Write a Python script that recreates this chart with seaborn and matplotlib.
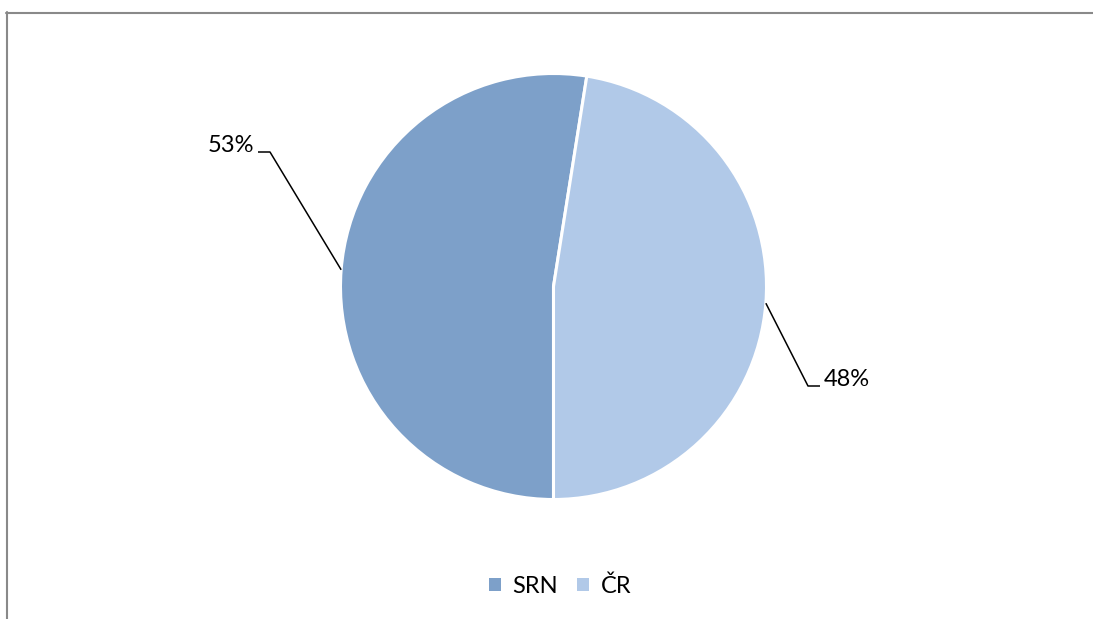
import math

import matplotlib
matplotlib.use("Agg")
import matplotlib.pyplot as plt
from matplotlib.lines import Line2D
from matplotlib.patches import Patch
import seaborn as sns

# Share of each country
categories = ["SRN", "ČR"]
values = [52.5, 47.5]
colors = ["#7DA0C9", "#B1C9E8"]

W, H = 1093, 619
sns.set_theme(style="white")
plt.rcParams["font.family"] = ["Lato", "DejaVu Sans"]
plt.rcParams["text.color"] = "black"

fig = plt.figure(figsize=(W / 100, H / 100), dpi=100)
fig.patch.set_facecolor("white")
ax = fig.add_axes([0, 0, 1, 1])

# pie geometry in pixel units (y measured upward)
cx, cy, r = 553.5, H - 286.5, 213
wedges, _ = ax.pie(
    values, colors=colors, startangle=-90, counterclock=False,
    center=(cx, cy), radius=r,
    wedgeprops=dict(edgecolor="white", linewidth=2.2),
)
ax.set_xlim(0, W)
ax.set_ylim(0, H)
ax.set_aspect("equal")
ax.axis("off")

# leader lines: arc midpoint -> elbow -> short horizontal stub -> label
total = sum(values)
elbows = [(270, 152), (808, 386)]  # pixel positions (y downward)
stub = [-12, 12]
for w, v, (ex, ey), s in zip(wedges, values, elbows, stub):
    mid = math.radians((w.theta1 + w.theta2) / 2)
    ax_pt = (cx + r * math.cos(mid), cy + r * math.sin(mid))
    ey_d = H - ey
    ax.plot([ax_pt[0], ex, ex + s], [ax_pt[1], ey_d, ey_d],
            color="black", lw=1.1, solid_capstyle="butt")
    pct = math.floor(v / total * 100 + 0.5)
    if s < 0:
        ax.text(ex + s - 4, ey_d + 7, f"{pct}%", ha="right", va="center",
                fontsize=17, color="black")
    else:
        ax.text(ex + s + 4, ey_d + 7, f"{pct}%", ha="left", va="center",
                fontsize=17, color="black")

# chart area border (top and left edges)
border = dict(color="#898989", lw=1.5, transform=None)
fig.add_artist(Line2D([6, W], [H - 12.5, H - 12.5], **border))
fig.add_artist(Line2D([6.5, 6.5], [0, H - 12], **border))

handles = [Patch(facecolor=c, edgecolor="none") for c in colors]
leg = fig.legend(handles, categories, loc="center",
                 bbox_to_anchor=(560 / W, 1 - 586 / H), ncol=2, frameon=False,
                 fontsize=17, handlelength=0.5, handleheight=0.5,
                 handletextpad=0.5, columnspacing=0.8)
for t in leg.get_texts():
    t.set_color("black")

fig.savefig("out.png", dpi=100, facecolor="white")
